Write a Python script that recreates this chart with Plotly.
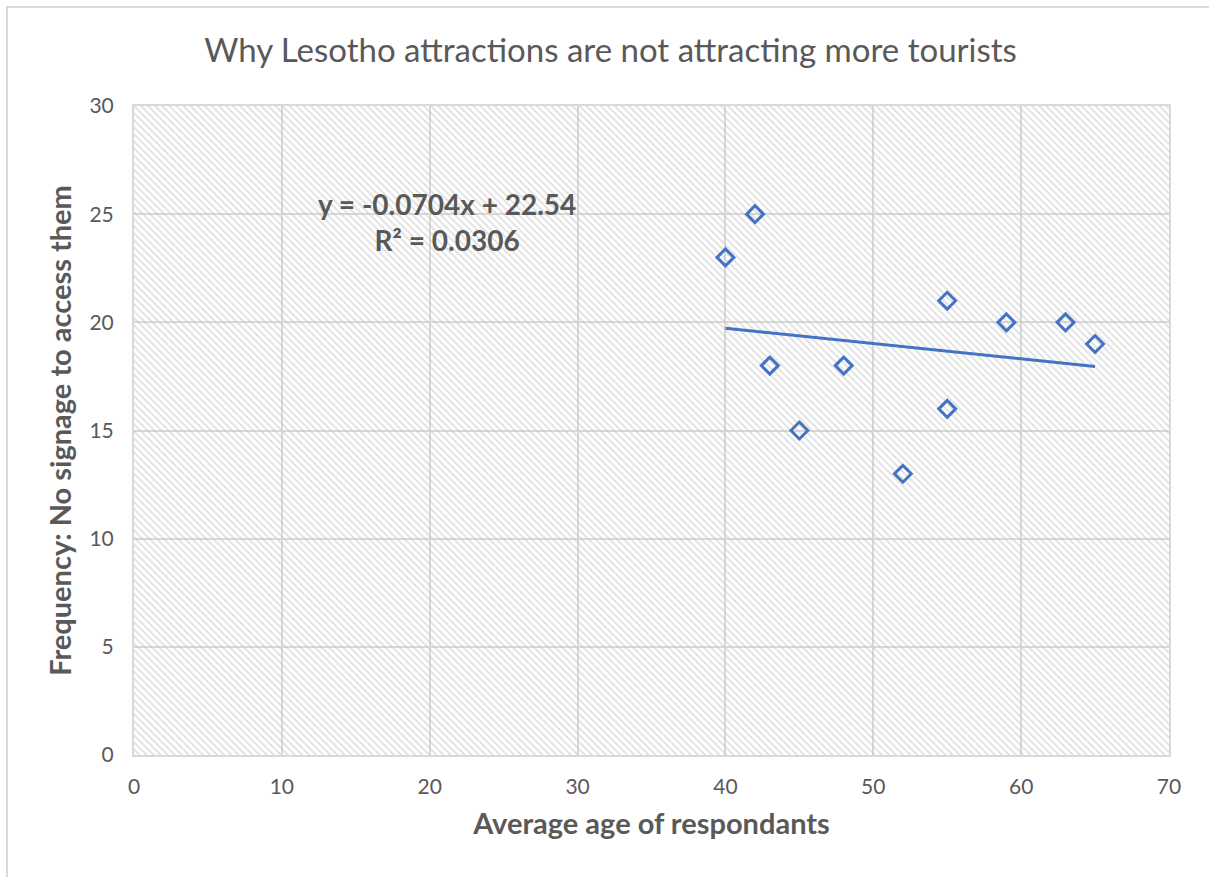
import numpy as np
import plotly.graph_objects as go

# Data
ages = [40, 42, 43, 45, 48, 52, 55, 55, 59, 63, 65]
freq = [23, 25, 18, 15, 18, 13, 21, 16, 20, 20, 19]
x_ticks = [0, 10, 20, 30, 40, 50, 60, 70]
y_ticks = [0, 5, 10, 15, 20, 25, 30]

title = "Why Lesotho attractions are not attracting more tourists"
x_title = "Average age of respondants"
y_title = "Frequency: No signage to access them"
eq_text = "y = -0.0704x + 22.54<br>R² = 0.0306"

FONT = "Lato"
GRAY = "#595959"
BLUE = "#4472C4"

slope, intercept = np.polyfit(ages, freq, 1)
tx = [min(ages), max(ages)]
ty = [slope * v + intercept for v in tx]

fig = go.Figure()

# hatched plot-area background (transparent so gridlines show through)
fig.add_trace(go.Scatter(
    x=[x_ticks[0], x_ticks[-1], x_ticks[-1], x_ticks[0], x_ticks[0]],
    y=[y_ticks[0], y_ticks[0], y_ticks[-1], y_ticks[-1], y_ticks[0]],
    mode="none", fill="toself", fillcolor="rgba(0,0,0,0)",
    fillpattern=dict(shape="\\", fgcolor="#c4c4c4", bgcolor="rgba(0,0,0,0)",
                     size=5, solidity=0.4),
    hoverinfo="skip", showlegend=False,
))

fig.add_trace(go.Scatter(
    x=tx, y=ty, mode="lines",
    line=dict(color=BLUE, width=3), showlegend=False,
))

fig.add_trace(go.Scatter(
    x=ages, y=freq, mode="markers",
    marker=dict(symbol="diamond-open", size=13, color=BLUE, line=dict(width=3, color=BLUE)),
    showlegend=False,
))

fig.add_annotation(
    x=21.2, y=24.62, xref="x", yref="y", text="<b>" + eq_text + "</b>", showarrow=False,
    font=dict(family=FONT, size=28, color=GRAY), align="center",
)

fig.add_shape(type="rect", xref="paper", yref="paper",
              x0=-127/1035, y0=-0.5, x1=1.2, y1=1 + 99/649,
              line=dict(color="#d9d9d9", width=2), layer="below")

fig.update_layout(
    width=1209, height=877,
    margin=dict(l=134, r=40, t=106, b=122),
    paper_bgcolor="white", plot_bgcolor="white",
    font=dict(family=FONT, color=GRAY),
    title=dict(text=title, x=0.505, xanchor="center", y=0.943, yanchor="middle",
               font=dict(family=FONT, size=33, color=GRAY)),
    xaxis=dict(range=[x_ticks[0], x_ticks[-1]], tickvals=x_ticks, showgrid=True,
               gridcolor="#d9d9d9", gridwidth=2, zeroline=False, showline=True,
               linecolor="#d9d9d9", linewidth=2, mirror=True, ticks="",
               tickfont=dict(family=FONT, size=21, color=GRAY), ticklabelstandoff=12,
               title=dict(text="<b>" + x_title + "</b>", standoff=16,
                          font=dict(family=FONT, size=29, color=GRAY))),
    yaxis=dict(range=[y_ticks[0], y_ticks[-1]], tickvals=y_ticks, showgrid=True,
               gridcolor="#d9d9d9", gridwidth=2, zeroline=False, showline=True,
               linecolor="#d9d9d9", linewidth=2, mirror=True, ticks="",
               tickfont=dict(family=FONT, size=21, color=GRAY), ticklabelstandoff=14,
               title=dict(text="<b>" + y_title + "</b>", standoff=9,
                          font=dict(family=FONT, size=29, color=GRAY))),
)

fig.write_html("out.html")
